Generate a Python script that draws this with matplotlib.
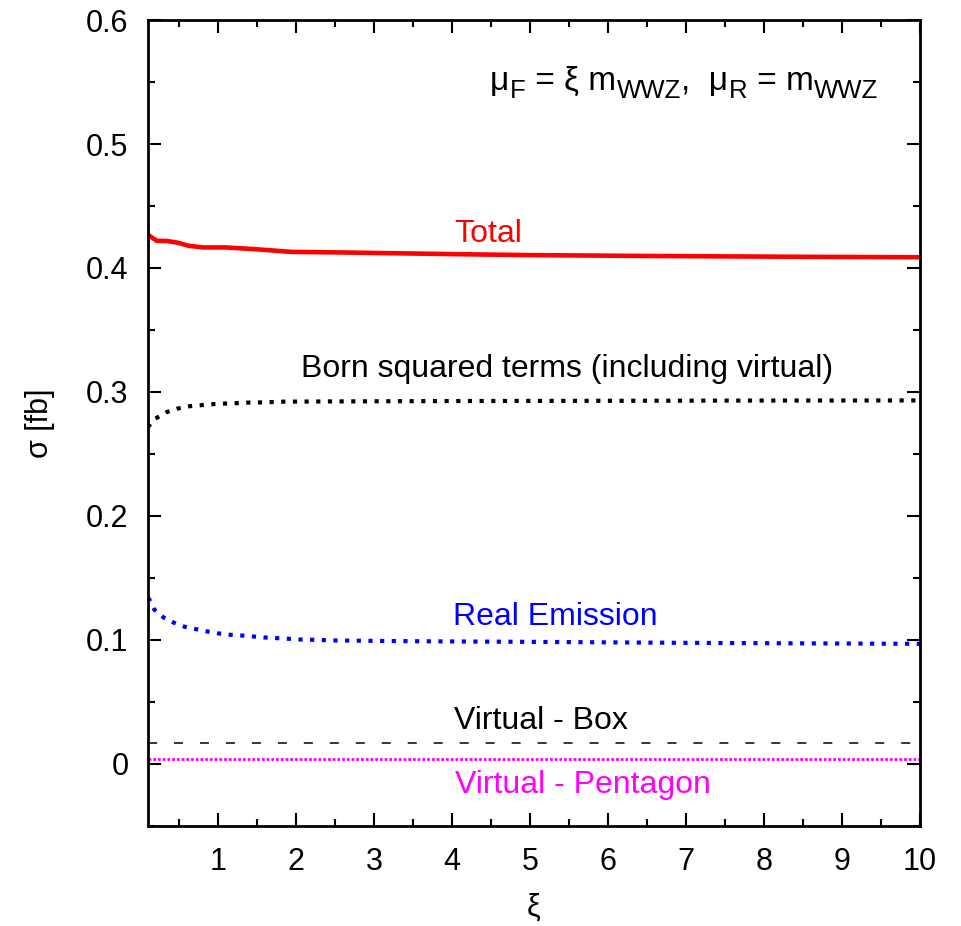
import matplotlib

matplotlib.use("Agg")
import matplotlib.pyplot as plt
from matplotlib.ticker import MultipleLocator

plt.rcParams["font.family"] = ["Liberation Sans", "DejaVu Sans"]

# values
xi_total = [0.1, 0.106, 0.214, 0.342, 0.49, 0.62, 0.81, 1.09, 1.47, 1.94, 2.63, 4.0, 5.0, 6.5, 8.6, 10.0]
sigma_total = [0.4275, 0.4265, 0.4219, 0.4218, 0.4203, 0.4179, 0.4166, 0.4166, 0.4152, 0.4130, 0.4125, 0.4112, 0.4104, 0.4097, 0.4090, 0.4087]

xi_born = [0.1, 0.115, 0.192, 0.342, 0.47, 0.641, 0.747, 0.94, 1.047, 1.24, 1.346, 1.54, 1.84, 2.44, 4.0, 6.0, 8.0, 10.0]
sigma_born = [0.2715, 0.2730, 0.2784, 0.2838, 0.2865, 0.2886, 0.2892, 0.2902, 0.2906, 0.2910, 0.2914, 0.2916, 0.2922, 0.2924, 0.2927, 0.2929, 0.2931, 0.2932]

xi_real = [0.1, 0.115, 0.183, 0.299, 0.427, 0.568, 0.714, 0.859, 1.004, 1.154, 1.304, 1.453, 1.603, 1.753, 1.901, 2.05,
           2.20, 2.35, 2.5, 3.5, 5.0, 7.0, 10.0]
sigma_real = [0.1340, 0.1330, 0.1244, 0.1182, 0.1141, 0.1107, 0.1088, 0.1069, 0.1053, 0.1042, 0.1036, 0.1028, 0.1020,
              0.1015, 0.1010, 0.1004, 0.1002, 0.0999, 0.0996, 0.0990, 0.0985, 0.0977, 0.0969]

xi_flat = [0.1, 10.0]
sigma_box = [0.0172, 0.0172]
sigma_pent = [0.0043, 0.0043]

# scale annotation, split into (text, is_subscript)
scale_pieces = [("μ", False), ("F", True), (" = ξ m", False), ("WWZ", True),
                (",  μ", False), ("R", True), (" = m", False), ("WWZ", True)]

fig = plt.figure(figsize=(9.62, 9.26), dpi=100)
ax = fig.add_axes([0.1538, 0.108, 0.8025, 0.8704])

ax.plot(xi_total, sigma_total, color="#ff0000", lw=3.3)
ax.plot(xi_born, sigma_born, color="black", lw=3, linestyle=(0, (1, 1.8)))
ax.plot(xi_real, sigma_real, color="#0000ff", lw=3, linestyle=(0, (1, 1.8)))
ax.plot(xi_flat, sigma_box, color="black", lw=1.1, linestyle=(0, (5.9, 11.1)))
ax.plot(xi_flat, sigma_pent, color="#ff00ff", lw=2, linestyle=(0, (1, 0.7)))

fs = 23
ax.text(4.468, 0.4211, "Total", color="#ff0000", fontsize=fs, ha="center", va="baseline")
ax.text(5.48, 0.3120, "Born squared terms (including virtual)", color="black", fontsize=fs, ha="center", va="baseline")
ax.text(5.33, 0.1120, "Real Emission", color="#0000ff", fontsize=fs, ha="center", va="baseline")
ax.text(5.14, 0.0280, "Virtual - Box", color="black", fontsize=fs, ha="center", va="baseline")
ax.text(5.673, -0.0232, "Virtual - Pentagon", color="#ff00ff", fontsize=fs, ha="center", va="baseline")

# chain the annotation pieces so subscripts can be bigger than mathtext allows
base_y = 0.5436
prev = ax.text(4.487, base_y, "", fontsize=24, ha="left", va="baseline")
for piece, is_sub in scale_pieces:
    prev = ax.annotate(
        piece,
        xy=(1, base_y),
        xycoords=(prev, ax.transData),
        xytext=(0.6 if is_sub else 0, -6 if is_sub else 0),
        textcoords="offset points",
        fontsize=18.5 if is_sub else 24,
        ha="left",
        va="baseline",
    )

ax.set_xlim(0.1, 10)
ax.set_ylim(-0.05, 0.6)
ax.xaxis.set_major_locator(MultipleLocator(1))
ax.xaxis.set_minor_locator(MultipleLocator(0.5))
ax.yaxis.set_major_locator(MultipleLocator(0.1))
ax.yaxis.set_minor_locator(MultipleLocator(0.05))
ax.set_xticks(range(1, 11))
ax.set_yticks([0, 0.1, 0.2, 0.3, 0.4, 0.5, 0.6])
ax.set_yticklabels(["0", "0.1", "0.2", "0.3", "0.4", "0.5", "0.6"])
ax.tick_params(which="both", direction="in", top=True, right=True, width=1.5, labelsize=22)
ax.tick_params(which="major", length=9.5)
ax.tick_params(which="minor", length=5)
ax.tick_params(axis="x", which="major", pad=15)
ax.tick_params(axis="y", which="major", pad=14)
for spine in ax.spines.values():
    spine.set_linewidth(2)

ax.set_xlabel("ξ", fontsize=22, labelpad=11)
ax.set_ylabel("σ [fb]", fontsize=22, labelpad=22)

fig.savefig("out.png", dpi=100)
